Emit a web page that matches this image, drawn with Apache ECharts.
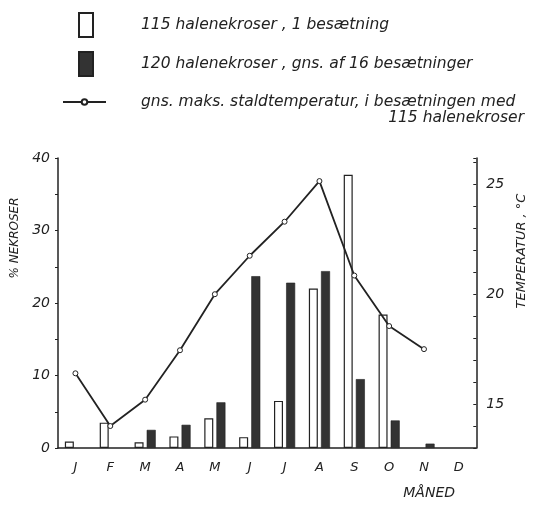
<!DOCTYPE html>
<html>
<head>
<meta charset="utf-8">
<script src="https://cdn.jsdelivr.net/npm/echarts@6/dist/echarts.min.js"></script>
<style>
  html, body { margin: 0; padding: 0; background: #fff; }
  #chart { width: 536px; height: 505px; }
</style>
</head>
<body>
<div id="chart"></div>
<script>
// maaneder
var months = ['J', 'F', 'M', 'A', 'M', 'J', 'J', 'A', 'S', 'O', 'N', 'D'];
// % nekroser, 1 besaetning (hvide soejler)
var enBes = [0.9, 3.5, 0.8, 1.6, 4.1, 1.5, 6.5, 22.0, 37.7, 18.4, null, null];
// % nekroser, gns. af 16 besaetninger (sorte soejler)
var gns16 = [null, null, 2.5, 3.2, 6.3, 23.7, 22.8, 24.4, 9.5, 3.8, 0.6, null];
// gns. maks. staldtemperatur, grader C
var temp = [16.4, 14.0, 15.2, 17.45, 20.0, 21.75, 23.3, 25.15, 20.85, 18.55, 17.5, null];

var navn1 = '115 halenekroser , 1 besætning';
var navn2 = '120 halenekroser , gns. af 16 besætninger';
var navn3 = 'gns. maks. staldtemperatur, i besætningen med';

var font = 'DejaVu Sans';
var ink = '#222';
var legendSize = 15.5;

var myChart = echarts.init(document.getElementById('chart'));
var option = {
    backgroundColor: '#fff',
    animation: false,
    textStyle: { fontFamily: font, fontStyle: 'italic', color: ink },
    title: {
        text: '115 halenekroser',
        right: 12,
        top: 110,
        padding: 0,
        textStyle: { fontFamily: font, fontStyle: 'italic', fontWeight: 'normal', fontSize: legendSize, color: ink }
    },
    legend: [{
        data: [navn1, navn2],
        orient: 'vertical',
        left: 78,
        top: 12,
        padding: 0,
        icon: 'rect',
        itemWidth: 14,
        itemHeight: 24,
        itemGap: 13,
        textStyle: { fontFamily: font, fontStyle: 'italic', fontSize: legendSize, color: ink, padding: [0, 0, 0, 43] }
    }, {
        data: [navn3],
        orient: 'vertical',
        left: 62,
        top: 94,
        padding: 0,
        itemWidth: 43,
        itemHeight: 7,
        textStyle: { fontFamily: font, fontStyle: 'italic', fontSize: legendSize, color: ink, padding: [0, 0, 0, 30] }
    }],
    grid: {
        left: 58,
        right: 52,
        top: 158,
        bottom: 53
    },
    xAxis: {
        type: 'category',
        data: months,
        name: 'MÅNED',
        nameLocation: 'middle',
        nameGap: 38,
        nameTextStyle: { fontFamily: font, fontStyle: 'italic', fontSize: 14, color: ink, padding: [0, 0, 0, 324] },
        axisLine: { lineStyle: { color: ink, width: 1.5 } },
        axisTick: { alignWithLabel: true, length: 4, lineStyle: { color: ink } },
        axisLabel: { fontFamily: font, fontStyle: 'italic', fontSize: 13, color: ink, margin: 13 },
        splitLine: { show: false }
    },
    yAxis: [{
        type: 'value',
        min: 0,
        max: 40,
        interval: 5,
        name: '% NEKROSER',
        nameLocation: 'middle',
        nameRotate: 90,
        nameGap: 28,
        nameTextStyle: { fontFamily: font, fontStyle: 'italic', fontSize: 12, color: ink, padding: [0, 0, 0, 130] },
        axisLine: { show: true, lineStyle: { color: ink, width: 1.5 } },
        axisTick: { show: true, length: 3, lineStyle: { color: ink } },
        axisLabel: {
            fontFamily: font, fontStyle: 'italic', fontSize: 14, color: ink, margin: 8,
            formatter: function (v) { return v % 10 === 0 ? v : ''; }
        },
        splitLine: { show: false }
    }, {
        type: 'value',
        position: 'right',
        min: 13,
        max: 26.2,
        interval: 1,
        name: 'TEMPERATUR , °C',
        nameLocation: 'middle',
        nameRotate: 90,
        nameGap: 36,
        nameTextStyle: { fontFamily: font, fontStyle: 'italic', fontSize: 13, color: ink, padding: [0, 0, 0, 104] },
        axisLine: { show: true, lineStyle: { color: ink, width: 1.5 } },
        axisTick: { show: true, inside: true, length: 3, lineStyle: { color: ink } },
        axisLabel: {
            fontFamily: font, fontStyle: 'italic', fontSize: 14, color: ink, margin: 10,
            formatter: function (v) { return (v % 5 === 0 && v >= 15) ? v : ''; }
        },
        splitLine: { show: false }
    }],
    series: [{
        name: navn1,
        type: 'bar',
        yAxisIndex: 0,
        barWidth: 9,
        barGap: '35%',
        itemStyle: { color: '#fff', borderColor: ink, borderWidth: 1.2 },
        data: enBes
    }, {
        name: navn2,
        type: 'bar',
        yAxisIndex: 0,
        barWidth: 9,
        barGap: '35%',
        itemStyle: { color: '#333', borderColor: '#222', borderWidth: 0.6 },
        data: gns16
    }, {
        name: navn3,
        type: 'line',
        yAxisIndex: 1,
        symbol: 'circle',
        symbolSize: 5,
        showSymbol: true,
        lineStyle: { color: ink, width: 1.8 },
        itemStyle: { color: '#fff', borderColor: ink, borderWidth: 1 },
        data: temp
    }]
};
myChart.setOption(option);
</script>
</body>
</html>
